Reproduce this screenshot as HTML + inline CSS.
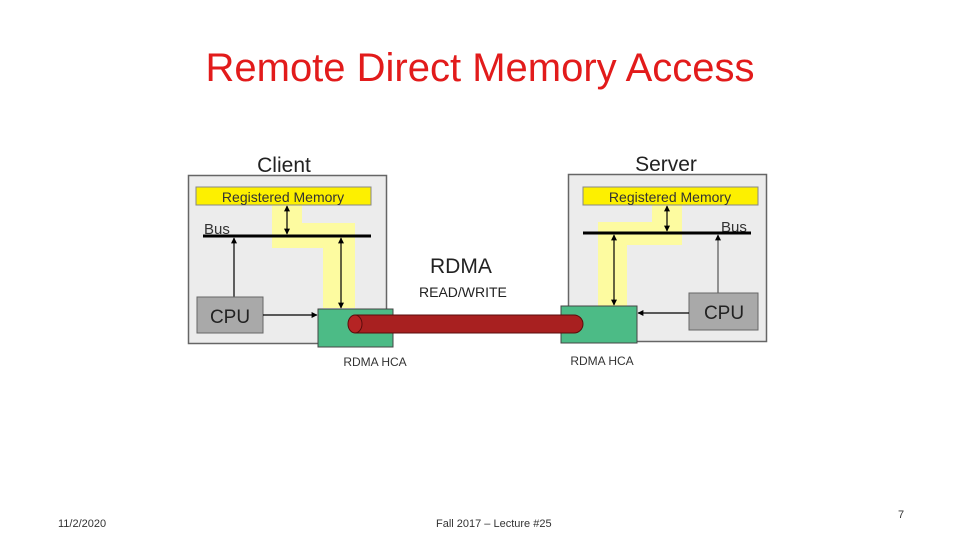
<!DOCTYPE html>
<html><head><meta charset="utf-8"><style>
html,body{margin:0;padding:0;background:#fff;}
svg{display:block;}
</style></head><body>
<svg width="960" height="540" viewBox="0 0 960 540" xmlns="http://www.w3.org/2000/svg" font-family="Liberation Sans, Arial, sans-serif">
<defs>
<marker id="ah" viewBox="0 0 10 10" refX="9" refY="5" markerWidth="5" markerHeight="5" orient="auto-start-reverse"><path d="M0,0 L10,5 L0,10 z" fill="#000"/></marker>
</defs>
<text x="480" y="81" text-anchor="middle" font-size="40" fill="#e21b1b">Remote Direct Memory Access</text>

<!-- Client -->
<text x="284" y="172" text-anchor="middle" font-size="21" fill="#222">Client</text>
<rect x="188.5" y="175.5" width="198" height="168" fill="#ececec" stroke="#666" stroke-width="1.5"/>
<path d="M272,205 H302 V223 H355 V308 H323 V248 H272 Z" fill="#fdfba0"/>
<rect x="196" y="187" width="175" height="18" fill="#fdf000" stroke="#888" stroke-width="1"/>
<text x="283" y="202" text-anchor="middle" font-size="14" fill="#333">Registered Memory</text>
<text x="204" y="234" font-size="15" fill="#333">Bus</text>
<line x1="203" y1="236" x2="371" y2="236" stroke="#000" stroke-width="3"/>
<line x1="287" y1="206" x2="287" y2="234" stroke="#000" stroke-width="1.2" marker-start="url(#ah)" marker-end="url(#ah)"/>
<line x1="341" y1="238" x2="341" y2="308" stroke="#000" stroke-width="1.2" marker-start="url(#ah)" marker-end="url(#ah)"/>
<line x1="234" y1="297" x2="234" y2="238" stroke="#000" stroke-width="1.2" marker-end="url(#ah)"/>
<rect x="197" y="297" width="66" height="36" fill="#a9a9a9" stroke="#666"/>
<text x="230" y="323" text-anchor="middle" font-size="19" fill="#222">CPU</text>
<line x1="263" y1="315" x2="317" y2="315" stroke="#000" stroke-width="1.2" marker-end="url(#ah)"/>
<rect x="318" y="309" width="75" height="38" fill="#4cbb86" stroke="#444"/>
<text x="375" y="366" text-anchor="middle" font-size="12" fill="#333">RDMA HCA</text>

<!-- Server -->
<text x="666" y="171" text-anchor="middle" font-size="21" fill="#222">Server</text>
<rect x="568.5" y="174.5" width="198" height="167" fill="#ececec" stroke="#666" stroke-width="1.5"/>
<path d="M652,205 H682 V245 H627 V308 H598 V222 H652 Z" fill="#fdfba0"/>
<rect x="583" y="187" width="175" height="18" fill="#fdf000" stroke="#888" stroke-width="1"/>
<text x="670" y="202" text-anchor="middle" font-size="14" fill="#333">Registered Memory</text>
<text x="721" y="232" font-size="15" fill="#333">Bus</text>
<line x1="583" y1="233" x2="751" y2="233" stroke="#000" stroke-width="3"/>
<line x1="667" y1="206" x2="667" y2="231" stroke="#000" stroke-width="1.2" marker-start="url(#ah)" marker-end="url(#ah)"/>
<line x1="614" y1="235" x2="614" y2="305" stroke="#000" stroke-width="1.2" marker-start="url(#ah)" marker-end="url(#ah)"/>
<line x1="718" y1="293" x2="718" y2="235" stroke="#555" stroke-width="1.2" marker-end="url(#ah)"/>
<rect x="689" y="293" width="69" height="37" fill="#a9a9a9" stroke="#666"/>
<text x="724" y="319" text-anchor="middle" font-size="19" fill="#222">CPU</text>
<line x1="689" y1="313" x2="638" y2="313" stroke="#000" stroke-width="1.2" marker-end="url(#ah)"/>
<rect x="561" y="306" width="76" height="37" fill="#4cbb86" stroke="#444"/>
<text x="602" y="365" text-anchor="middle" font-size="12" fill="#333">RDMA HCA</text>

<!-- pipe -->
<path d="M355,315 H574 A9,9 0 0 1 574,333 H355 Z" fill="#a82020" stroke="#5a0c0c" stroke-width="1"/>
<ellipse cx="355" cy="324" rx="7" ry="9" fill="#b52424" stroke="#5a0c0c" stroke-width="1"/>

<text x="430" y="273" font-size="21" fill="#222">RDMA</text>
<text x="419" y="297" font-size="14" fill="#222">READ/WRITE</text>

<text x="58" y="527" font-size="11" fill="#333">11/2/2020</text>
<text x="436" y="527" font-size="11" fill="#333">Fall 2017 – Lecture #25</text>
<text x="898" y="518" font-size="11" fill="#333">7</text>
</svg>
</body></html>
